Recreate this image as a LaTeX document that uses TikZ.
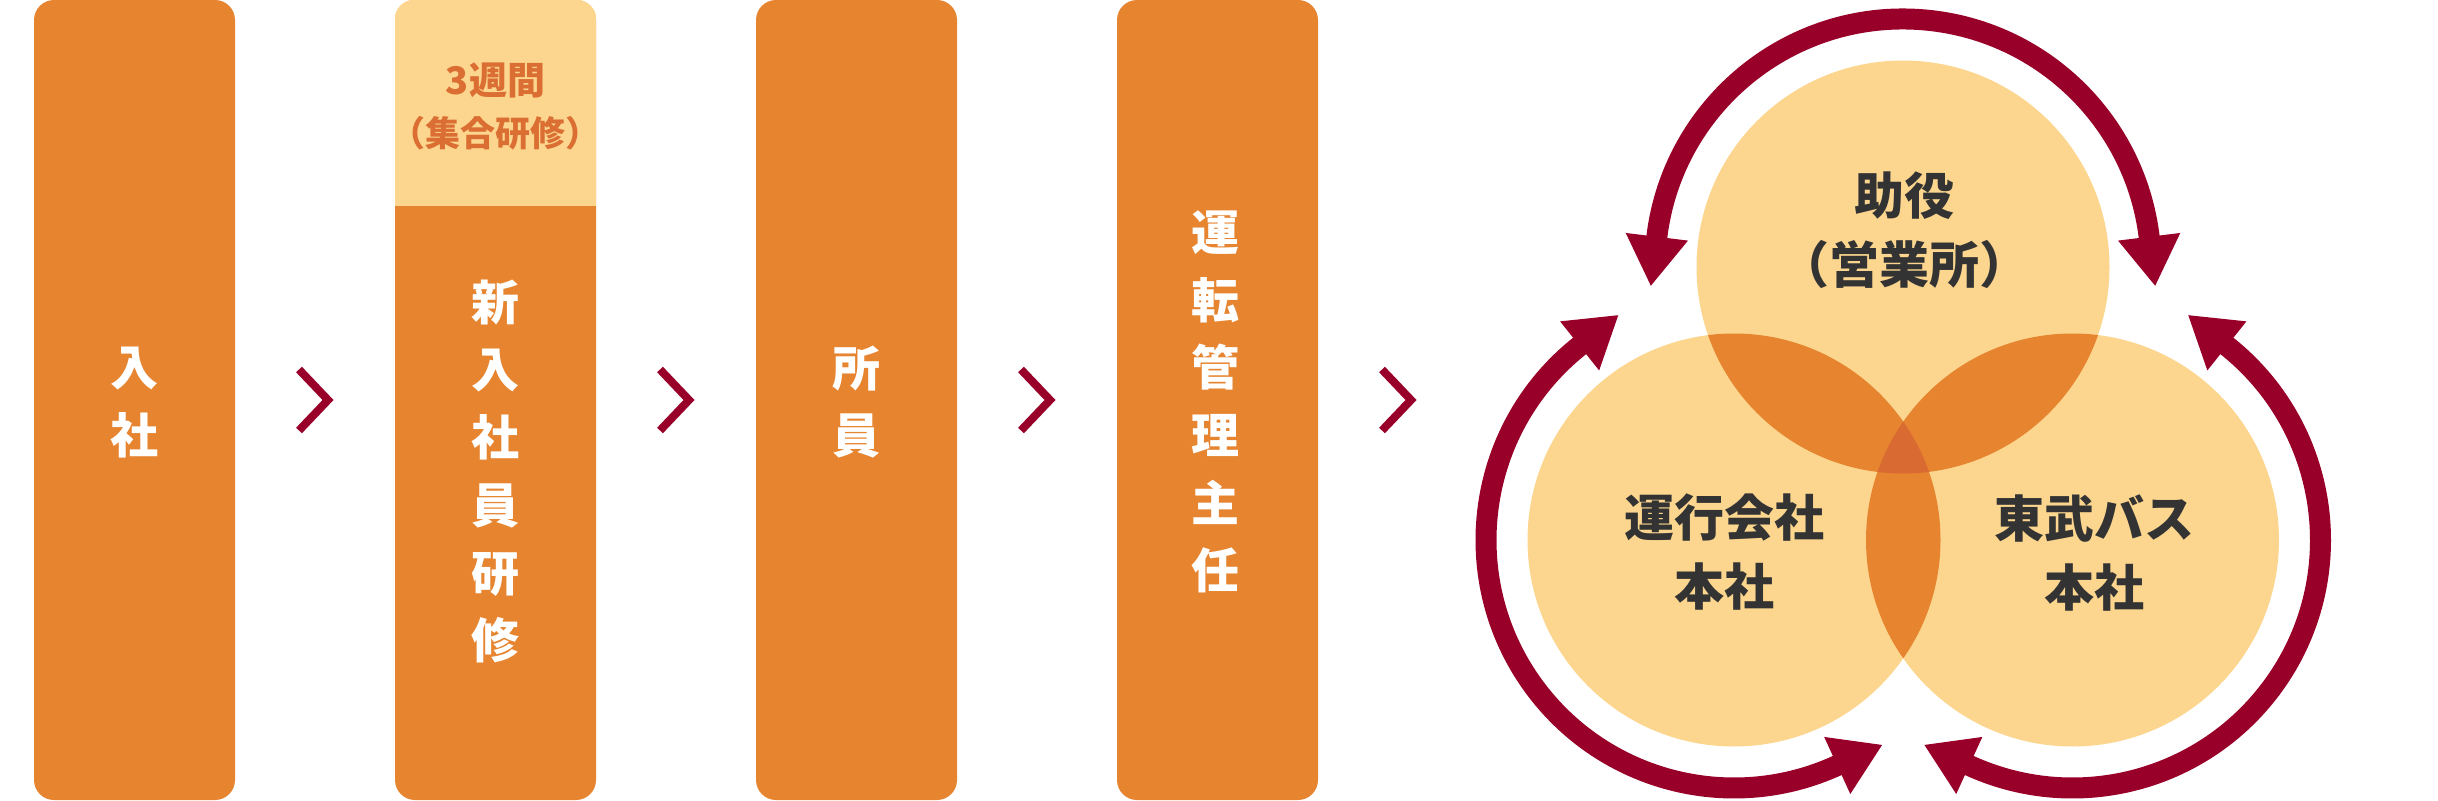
\documentclass[tikz,border=0pt]{standalone}
\usepackage{fontspec}
\newfontfamily\jp{Noto Sans CJK JP}
\usetikzlibrary{arrows.meta,calc}
\definecolor{boxor}{HTML}{E6842F}
\definecolor{lightor}{HTML}{FCD68E}
\definecolor{deepor}{HTML}{D96A32}
\definecolor{wine}{HTML}{990029}
\definecolor{txtgray}{HTML}{333333}
\definecolor{weektxt}{HTML}{DA6E33}
\begin{document}
\begin{tikzpicture}[x=0.5pt,y=0.5pt,
  stepbox/.style={draw=none, fill=boxor, rounded corners=10pt, minimum width=100.5pt, minimum height=400pt, inner sep=0pt},
  vlabel/.style={text=white, font=\jp\bfseries\fontsize{24pt}{33.85pt}\selectfont, align=center, inner sep=0pt},
  weeklabel/.style={text=weektxt, font=\jp\bfseries\fontsize{#1}{#1}\selectfont, inner sep=0pt},
  chev/.style={draw=wine, line width=4pt, miter limit=10},
  ring/.style={draw=wine, line width=10.5pt, {Triangle[length=25pt,width=29.5pt]}-{Triangle[length=25pt,width=29.5pt]}},
  venn/.style={circle, fill=lightor, minimum size=206.5pt, inner sep=0pt},
  clabel/.style={text=txtgray, font=\jp\bfseries\fontsize{25pt}{34.5pt}\selectfont, align=center, inner sep=0pt},
]
\useasboundingbox (0,0) rectangle (2438,800);

% step boxes
\node[stepbox] (b1) at (134.5,400) {};
\node[stepbox] (b2) at (495.5,400) {};
\node[stepbox] (b3) at (856.5,400) {};
\node[stepbox] (b4) at (1217.5,400) {};
\begin{scope}
  \clip[rounded corners=10pt] (b2.south west) rectangle (b2.north east);
  \fill[lightor] (b2.north west) rectangle (596,594);
\end{scope}

\node[weeklabel=19pt] (w1) at (495.5,720) {3週間};
\node[weeklabel=17.5pt] (w2) at (495.5,667) {（集合研修）};

\node[vlabel] (t1) at (134.5,397.75) {入\\社};
\node[vlabel] (t2) at (495.5,328.5) {新\\入\\社\\員\\研\\修};
\node[vlabel] (t3) at (856.5,398) {所\\員};
\node[vlabel] (t4) at (1215.5,398) {運\\転\\管\\理\\主\\任};

% chevrons
\coordinate (k1) at ($(b1.east)!0.5!(b2.west)$);
\coordinate (k2) at ($(b2.east)!0.5!(b3.west)$);
\coordinate (k3) at ($(b3.east)!0.5!(b4.west)$);
\coordinate (k4) at (1398,400);
\foreach \k in {k1,k2,k3,k4}{
  \draw[chev] ($(\k)+(-16,30.5)$) -- ($(\k)+(13,0)$) -- ($(\k)+(-16,-30.5)$);
}

% venn circles
\coordinate (ct) at (1903,533);
\coordinate (cl) at (1734,260);
\coordinate (cr) at (2072.5,260);
\node[venn] (ctop) at (ct) {};
\node[venn] (cleft) at (cl) {};
\node[venn] (cright) at (cr) {};
\begin{scope}
  \clip (ct) circle[radius=103.25pt];
  \fill[boxor] (cl) circle[radius=103.25pt];
  \fill[boxor] (cr) circle[radius=103.25pt];
\end{scope}
\begin{scope}
  \clip (cl) circle[radius=103.25pt];
  \fill[boxor] (cr) circle[radius=103.25pt];
\end{scope}
\begin{scope}
  \clip (ct) circle[radius=103.25pt];
  \clip (cl) circle[radius=103.25pt];
  \fill[deepor] (cr) circle[radius=103.25pt];
\end{scope}

\node[clabel] (ltop) at (1904,570) {助役\\（営業所）};
\node[clabel] (lleft) at (1724,247.5) {運行会社\\本社};
\node[clabel] (lright) at (2094,247.5) {東武バス\\本社};

% cycle arrows
\draw[ring] ($(ct)+(173:124pt)+(263:25pt)$) -- ($(ct)+(173:124pt)$)
  arc[start angle=173, end angle=7, radius=124pt] -- ($(ct)+(7:124pt)+(-83:25pt)$);
\draw[ring] ($(cl)+(128.5:124pt)+(38.5:25pt)$) -- ($(cl)+(128.5:124pt)$)
  arc[start angle=128.5, end angle=294.6, radius=124pt] -- ($(cl)+(294.6:124pt)+(24.6:25pt)$);
\draw[ring] ($(cr)+(51.5:124pt)+(141.5:25pt)$) -- ($(cr)+(51.5:124pt)$)
  arc[start angle=51.5, end angle=-114.6, radius=124pt] -- ($(cr)+(-114.6:124pt)+(155.4:25pt)$);
\end{tikzpicture}
\end{document}
